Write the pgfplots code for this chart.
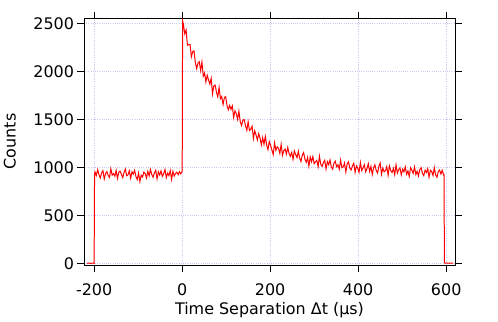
\documentclass[border=0pt]{standalone}
\usepackage{fontspec}
\setmainfont{DejaVu Sans}
\usepackage{pgfplots}
\pgfplotsset{compat=1.18}
\usepackage{pgfplotstable}

\definecolor{gridblue}{RGB}{200,200,245}

% counts per time bin (time in microseconds)
\pgfplotstableread{
t     c
-216  4
-212  6
-208  3
-204  5
-200  4
-199  930
-198  956
-195  919
-192  978
-189  927
-186  892
-183  945
-180  969
-177  882
-174  938
-171  959
-168  919
-165  898
-162  988
-159  922
-156  938
-153  911
-150  972
-147  887
-144  951
-141  964
-138  930
-135  897
-132  949
-129  985
-126  916
-123  925
-120  967
-117  890
-114  957
-111  933
-108  972
-105  908
-102  876
-99   945
-96   855
-93   921
-90   903
-87   953
-84   940
-81   893
-78   962
-75   914
-72   981
-69   929
-66   901
-63   946
-60   973
-57   884
-54   956
-51   924
-48   965
-45   909
-42   937
-39   980
-36   895
-33   943
-30   917
-27   970
-24   877
-21   961
-18   913
-15   940
-12   953
-9    927
-6   959
-3   935
0    960
0.5  1400
1    2530
3    2490
6    2395
9    2434
12   2276
15   2281
18   2281
21   2155
24   2208
27   2216
30   2097
33   2031
36   2088
39   2103
42   2012
45   2101
48   1952
51   1987
54   1893
57   1963
60   1911
63   1870
66   1930
69   1769
72   1853
75   1860
78   1788
81   1737
84   1836
87   1719
90   1741
93   1658
96   1730
99   1741
102  1645
105  1603
108  1649
111  1608
114  1644
117  1523
120  1592
123  1564
126  1502
129  1589
132  1479
135  1439
138  1496
141  1501
144  1437
147  1389
150  1479
153  1387
156  1402
159  1431
162  1304
165  1384
168  1339
171  1289
174  1355
177  1308
180  1238
183  1314
186  1244
189  1326
192  1238
195  1188
198  1272
201  1233
204  1182
207  1137
210  1258
213  1181
216  1218
219  1202
222  1147
225  1243
228  1129
231  1178
234  1194
237  1142
240  1210
243  1146
246  1119
249  1159
252  1087
255  1174
258  1137
261  1104
264  1171
267  1100
270  1064
273  1131
276  1157
279  1089
282  1055
285  1105
288  1015
291  1112
294  1062
297  1115
300  1041
303  1061
306  1076
309  1010
312  1119
315  1035
318  1013
321  1053
324  1078
327  986
330  1063
333  1030
336  1080
339  1007
342  984
345  1047
348  1068
351  1010
354  1030
357  984
360  1077
363  1000
366  1007
369  1049
372  956
375  1039
378  1061
381  995
384  976
387  1019
390  1046
393  951
396  1020
399  994
402  953
405  1054
408  970
411  998
414  1030
417  957
420  990
423  1042
426  961
429  1012
432  929
435  997
438  1029
441  971
444  944
447  1012
450  1048
453  931
456  996
459  958
462  967
465  1011
468  921
471  1018
474  970
477  950
480  992
483  926
486  1029
489  944
492  979
495  998
498  925
501  984
504  957
507  1009
510  932
513  966
516  909
519  999
522  974
525  940
528  1009
531  929
534  963
537  913
540  981
543  1000
546  940
549  917
552  973
555  949
558  990
561  900
564  973
567  959
570  918
573  1000
576  923
579  900
582  960
585  975
588  933
591  972
594  926
595  930
596  8
600  5
604  6
608  4
612  6
616  5
}\countsdata

\begin{document}
\begin{tikzpicture}
\begin{axis}[
  scale only axis,
  width=371bp, height=247bp,
  xmin=-223, xmax=620,
  ymin=-14, ymax=2559,
  xtick={-200,0,200,400,600},
  ytick={0,500,1000,1500,2000,2500},
  tick align=outside,
  major tick length=6.5bp,
  tick style={black, line width=0.8pt},
  axis line style={black, line width=0.9pt},
  xmajorgrids, ymajorgrids,
  grid style={gridblue, dash pattern=on 1bp off 1.2bp, line width=0.7pt},
  /pgf/number format/assume math mode=true,
  /pgf/number format/1000 sep={},
  tick label style={font=\fontsize{16}{19}\selectfont},
  xticklabel style={yshift=-9bp},
  xlabel={Time Separation Δt (μs)},
  ylabel={Counts},
  label style={font=\fontsize{16}{19}\selectfont},
  xlabel style={at={(axis description cs:0.5,-0.2024)}, anchor=base},
  ylabel style={at={(axis description cs:-0.2,0.5)}, anchor=center},
]
\addplot[red, line width=1pt, mark=none] table[x=t, y=c] {\countsdata};
\end{axis}
\path (current axis.south west) ++(-84bp,-55bp) coordinate (bbsw);
\path (current axis.north east) ++(43bp,18bp) coordinate (bbne);
\path (bbsw) rectangle (bbne);
\end{tikzpicture}
\end{document}
